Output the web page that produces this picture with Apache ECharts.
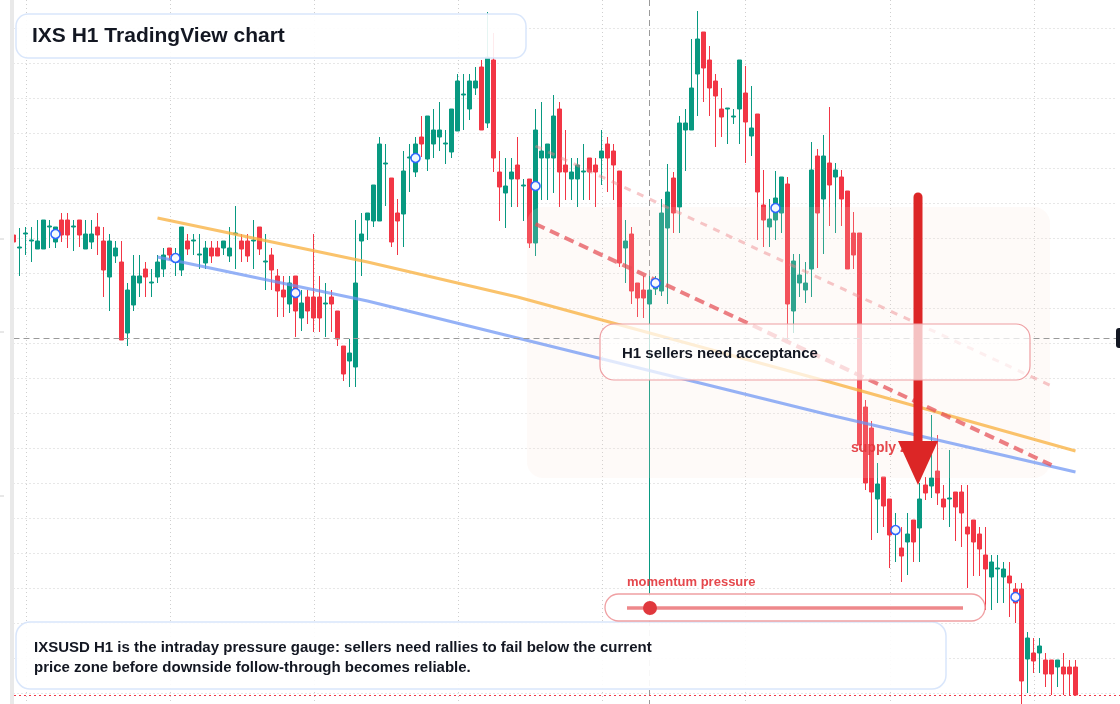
<!DOCTYPE html>
<html><head><meta charset="utf-8">
<script src="https://cdn.jsdelivr.net/npm/echarts@6/dist/echarts.min.js"></script>
<style>html,body{margin:0;padding:0;background:#fff;overflow:hidden}#c{width:1120px;height:704px}</style>
</head><body><div id="c"></div>
<script>
// ---- data (price units) ----
const opens = [
493,480,494,487,479,479,501,486,508,508, 501,508,479,486,501,487,451,472,466,395,
423,445,459,445,451,459,480,470,458,487, 487,473,465,480,480,480,472,494,487,487,
487,501,466,473,452,438,424,452,410,431, 431,431,424,431,417,382,367,361,487,508,
507,507,564,550,515,514,570,556,591,569, 584,591,584,576,597,633,619,640,661,605,
668,556,535,549,563,542,549,485,570,570, 570,619,563,549,549,556,570,563,570,584,
577,557,480,494,445,438,424,439,437,500, 550,521,598,598,654,696,668,647,619,619,
611,619,635,592,614,523,501,508,515,544, 417,445,438,459,572,529,565,551,551,537,
495,495,321,300,229,251,229,195,180,186, 208,200,243,242,257,229,229,236,236,201,
208,194,173,151,159,151,152,139,139,69,  75,75,68,68,61,61,61,61];
const closes = [
486,481,495,488,487,508,502,501,493,493, 502,493,494,494,493,458,487,480,388,438,
452,452,451,446,466,473,473,474,501,479, 488,474,480,472,472,487,480,495,479,472,
488,479,467,458,437,431,445,417,425,417, 410,410,425,424,389,354,375,445,494,515,
543,584,565,486,507,557,571,584,584,612, 598,598,585,619,647,634,647,647,598,671,
570,541,542,556,549,543,485,598,577,584, 612,556,556,556,563,557,556,556,577,570,
563,465,487,437,430,430,438,445,515,536, 515,605,605,640,689,660,640,632,611,620,
612,668,606,600,536,508,509,530,551,424, 467,453,445,558,515,572,543,558,529,459,
473,283,245,236,244,222,193,201,172,194, 186,229,235,250,235,221,230,221,215,194,
186,179,159,166,160,159,145,125,47,90,   67,82,54,54,68,54,54,33];
const lows = [
484,452,473,466,479,479,480,480,486,480, 477,481,479,479,473,431,417,465,388,382,
417,431,431,431,445,451,468,452,452,473, 473,459,459,465,472,473,466,459,466,466,
459,473,438,438,411,411,415,391,397,404, 396,396,391,396,382,347,341,341,452,488,
501,507,522,481,473,481,536,551,571,557, 570,577,564,570,597,598,608,633,598,600,
556,507,500,521,521,507,480,472,528,528, 535,521,528,528,521,528,528,521,543,536,
528,461,445,424,411,410,135,433,432,424, 495,495,557,598,612,626,612,581,591,584,
604,584,565,572,488,481,481,488,495,388, 395,431,425,431,460,474,502,495,502,459,
459,278,238,188,195,201,160,166,146,153, 166,166,228,230,223,208,201,187,181,140,
152,152,118,118,125,125,111,105,24,35,   55,55,41,33,41,33,33,33];
const highs = [
495,500,501,501,508,508,508,501,515,515, 508,508,508,508,515,501,494,487,487,445,
473,473,466,459,473,480,480,480,501,494, 494,494,487,487,487,487,501,522,494,494,
508,501,494,480,459,452,452,452,438,438, 494,452,445,438,417,382,389,508,515,515,
543,591,584,550,529,577,584,591,612,612, 619,626,598,619,654,654,654,661,668,716,
695,577,570,570,591,549,549,619,626,584, 633,626,598,570,570,584,570,570,598,591,
584,557,508,501,445,452,452,452,529,564, 556,612,619,689,717,696,682,654,640,620,
619,668,662,642,614,558,529,557,551,551, 474,474,466,586,579,593,621,565,558,537,
516,495,328,307,265,251,229,215,201,215, 208,245,251,313,293,243,278,236,243,243,
208,201,201,173,173,166,166,145,145,96,  90,90,75,68,68,75,68,68];
const padCount = 7;                 // empty slots right of the last candle
const markerIdx = [7,27,47,67,87,107,127,147,167];
const markerVals = [494,470,435,570,542,445,520,198,131];
const orangeIdx = [24,59,84,136,177];
const orangeVals = [510,466,431,346,277];
const blueIdx = [24,59,136,177];
const blueVals = [471,427,313,256];
const redDashIdx = [87,173];
const redDashVals = [504,263];
const pinkDashIdx = [87,173];
const pinkDashVals = [582,342];
const crossIdx = 106, crossVal = 390, lastVal = 33;
const yMin = 35, yMax = 700, yStep = 35;
const gridEvery = 24, gridFirst = 2;
const titleText = 'IXS H1 TradingView chart';
const noteLines = ['IXSUSD H1 is the intraday pressure gauge: sellers need rallies to fail below the current',
                   'price zone before downside follow-through becomes reliable.'];
const labelText = 'H1 sellers need acceptance';
const momentumText = 'momentum pressure';
const supplyText = 'supply zone';

// ---- build ----
const nCandles = opens.length;
const categories = [];
for (let i = 0; i < nCandles + padCount; i++) categories.push('H' + i);
const ohlc = opens.map((o, i) => [o, closes[i], lows[i], highs[i]]);
const pair = (xs, ys) => xs.map((x, k) => [x, ys[k]]);

const GREEN = '#089981', RED = '#f23645';
const FONT = '"Liberation Sans", Arial, Helvetica, sans-serif';
const chart = echarts.init(document.getElementById('c'), null, {renderer: 'canvas'});

const lineSeries = (data, color, width, type, z) => ({
  type: 'line', data, showSymbol: false, symbol: 'none', silent: true, z,
  lineStyle: {color, width, type, cap: 'butt'}, animation: false
});

const staticGraphics = [
  // left strip
  {type: 'rect', z: 20, shape: {x: 10, y: 0, width: 4, height: 704}, style: {fill: '#e9e9e9'}, silent: true},
  {type: 'line', z: 20, shape: {x1: 0, y1: 239, x2: 4, y2: 239}, style: {stroke: '#d0d0d0', lineWidth: 1}},
  {type: 'line', z: 20, shape: {x1: 0, y1: 332, x2: 4, y2: 332}, style: {stroke: '#d0d0d0', lineWidth: 1}},
  {type: 'line', z: 20, shape: {x1: 0, y1: 496, x2: 4, y2: 496}, style: {stroke: '#d0d0d0', lineWidth: 1}},
  // shaded supply zone
  {type: 'rect', z: 3, shape: {x: 527, y: 207, width: 523, height: 271, r: 16},
    style: {fill: 'rgba(246,222,210,0.16)'}, silent: true},
  // supply text (under arrow)
  {type: 'text', z: 7, x: 851, y: 448, style: {text: supplyText, font: 'bold 14px ' + FONT,
    fill: 'rgba(226,52,58,0.9)', verticalAlign: 'middle'}},
  // arrow
  {type: 'line', z: 8, shape: {x1: 918, y1: 197, x2: 918, y2: 450},
    style: {stroke: '#dc2626', lineWidth: 9, lineCap: 'round'}},
  {type: 'polygon', z: 8, shape: {points: [[898, 441], [938, 441], [918, 485]]}, style: {fill: '#dc2626'}},
  // label box
  {type: 'rect', z: 9, shape: {x: 600, y: 324, width: 430, height: 56, r: 14},
    style: {fill: 'rgba(255,255,255,0.72)', stroke: '#ee9ea2', lineWidth: 1.2}},
  {type: 'text', z: 10, x: 622, y: 354, style: {text: labelText, font: 'bold 15px ' + FONT,
    fill: '#131722', verticalAlign: 'middle'}},
  // title box
  {type: 'rect', z: 9, shape: {x: 16, y: 14, width: 510, height: 44, r: 12},
    style: {fill: 'rgba(255,255,255,0.9)', stroke: '#d9e6fb', lineWidth: 1.5}},
  {type: 'text', z: 10, x: 32, y: 36, style: {text: titleText, font: 'bold 21px ' + FONT,
    fill: '#131722', verticalAlign: 'middle'}},
  // bottom note box
  {type: 'rect', z: 9, shape: {x: 16, y: 622, width: 930, height: 67, r: 14},
    style: {fill: 'rgba(255,255,255,0.92)', stroke: '#d9e6fb', lineWidth: 1.5}},
  {type: 'text', z: 10, x: 34, y: 648, style: {text: noteLines[0], font: 'bold 15px ' + FONT,
    fill: '#131722', verticalAlign: 'middle'}},
  {type: 'text', z: 10, x: 34, y: 668, style: {text: noteLines[1], font: 'bold 15px ' + FONT,
    fill: '#131722', verticalAlign: 'middle'}},
  // momentum slider
  {type: 'text', z: 10, x: 627, y: 582, style: {text: momentumText, font: 'bold 13px ' + FONT,
    fill: '#e5484d', verticalAlign: 'middle'}},
  {type: 'rect', z: 11, shape: {x: 605, y: 594, width: 380, height: 27, r: 13.5},
    style: {fill: 'rgba(255,255,255,0.85)', stroke: '#f0a0a3', lineWidth: 1.3}},
  {type: 'line', z: 12, shape: {x1: 627, y1: 608, x2: 963, y2: 608},
    style: {stroke: 'rgba(232,96,100,0.75)', lineWidth: 3.5}},
  {type: 'circle', z: 13, shape: {cx: 650, cy: 608, r: 7}, style: {fill: '#e0383d'}},
  // right price tag stub
  {type: 'rect', z: 12, shape: {x: 1116, y: 328, width: 12, height: 20, r: 3}, style: {fill: '#131722'}}
];

chart.setOption({
  animation: false,
  backgroundColor: '#ffffff',
  grid: {left: 13.5, top: 28, width: 6 * (categories.length - 1), height: 665, containLabel: false},
  xAxis: {
    type: 'category', data: categories, boundaryGap: false,
    axisLine: {show: false}, axisTick: {show: false}, axisLabel: {show: false},
    splitLine: {show: false}
  },
  yAxis: {
    type: 'value', min: yMin, max: yMax, interval: yStep, scale: false,
    axisLine: {show: false}, axisTick: {show: false}, axisLabel: {show: false},
    splitLine: {show: true, lineStyle: {color: '#cfcfcf', type: [1, 3], width: 1}}
  },
  series: [
    {
      type: 'candlestick', data: ohlc, barWidth: 4, z: 2, clip: false,
      itemStyle: {color: GREEN, color0: RED, borderColor: GREEN, borderColor0: RED, borderWidth: 1},
      markLine: {
        silent: true, symbol: 'none', label: {show: false}, animation: false,
        data: [
          {yAxis: crossVal, lineStyle: {color: '#9a9a9a', type: [6, 4], width: 1}}
        ]
      }
    },
    lineSeries(pair(orangeIdx, orangeVals), 'rgba(249,178,66,0.78)', 3, 'solid', 4),
    lineSeries(pair(blueIdx, blueVals), 'rgba(108,148,244,0.72)', 3, 'solid', 4),
    lineSeries(pair(pinkDashIdx, pinkDashVals), 'rgba(238,130,136,0.45)', 3, [7, 7], 4),
    lineSeries(pair(redDashIdx, redDashVals), 'rgba(228,78,84,0.72)', 4, [10, 6], 4),
    {
      type: 'scatter', data: pair(markerIdx, markerVals), symbol: 'circle', symbolSize: 9, z: 5,
      silent: true,
      itemStyle: {color: '#ffffff', borderColor: '#2962ff', borderWidth: 1.6, opacity: 0.95}
    }
  ],
  graphic: staticGraphics
});

// full-height vertical grid lines, crosshair and last-price line, placed via the axis scales
const dyn = [];
for (let i = gridFirst; i < categories.length; i += gridEvery) {
  const x = Math.round(chart.convertToPixel({xAxisIndex: 0}, categories[i])) + 0.5;
  dyn.push({type: 'line', z: 0, silent: true, shape: {x1: x, y1: 0, x2: x, y2: 704},
    style: {stroke: '#cfcfcf', lineWidth: 1, lineDash: [1, 3]}});
}
const cx = Math.round(chart.convertToPixel({xAxisIndex: 0}, categories[crossIdx])) - 0.5;
dyn.push({type: 'line', z: 1, silent: true, shape: {x1: cx, y1: 0, x2: cx, y2: 704},
  style: {stroke: '#9a9a9a', lineWidth: 1, lineDash: [6, 4]}});
const ly = Math.round(chart.convertToPixel({yAxisIndex: 0}, lastVal)) + 0.5;
dyn.push({type: 'line', z: 6, silent: true, shape: {x1: 14, y1: ly, x2: 1120, y2: ly},
  style: {stroke: RED, lineWidth: 1, lineDash: [2, 3]}});
chart.setOption({graphic: staticGraphics.concat(dyn)});
</script></body></html>
